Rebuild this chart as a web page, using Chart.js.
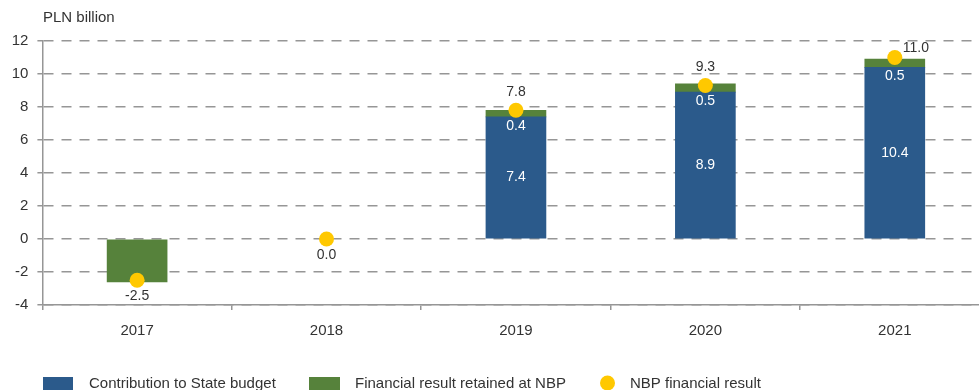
<!DOCTYPE html>
<html>
<head>
<meta charset="utf-8">
<script src="https://cdn.jsdelivr.net/npm/chart.js@4/dist/chart.umd.min.js"></script>
<style>
  html, body { margin: 0; padding: 0; overflow: hidden; background: #fff; }
  #wrap { position: relative; width: 997px; height: 390px; }
</style>
</head>
<body>
<div id="wrap"><canvas id="c" width="997" height="390"></canvas></div>
<script>
// NBP financial result and its distribution, PLN billion
const categories = ['2017', '2018', '2019', '2020', '2021'];
const contribution = [null, null, 7.4, 8.9, 10.4]; // Contribution to State budget
const retained = [-2.6, null, 0.4, 0.5, 0.5];      // Financial result retained at NBP
const nbpResult = [-2.5, 0.0, 7.8, 9.3, 11.0];     // NBP financial result
const yTicks = [-4, -2, 0, 2, 4, 6, 8, 10, 12];
const unitLabel = 'PLN billion';
const legendLabels = ['Contribution to State budget', 'Financial result retained at NBP', 'NBP financial result'];

// where each value label sits relative to its dot
const dotLabelSide = ['below', 'below', 'above', 'above', 'right'];

const BLUE = '#2b5a8b';
const GREEN = '#56823b';
const YELLOW = '#ffc800';
const GRID = '#969696';
const TEXT = '#333333';
const FONT = '"Liberation Sans", Arial, sans-serif';

const labelsPlugin = {
  id: 'labels',
  afterDatasetsDraw(chart) {
    const ctx = chart.ctx;
    ctx.save();
    ctx.font = '14px ' + FONT;
    ctx.textBaseline = 'middle';
    ctx.textAlign = 'center';

    // values inside the blue bars
    chart.getDatasetMeta(0).data.forEach((el, i) => {
      const v = contribution[i];
      if (v > 0) {
        ctx.fillStyle = '#ffffff';
        ctx.fillText(v.toFixed(1), el.x, (el.y + el.base) / 2);
      }
    });
    // retained part, written just under the green cap
    chart.getDatasetMeta(1).data.forEach((el, i) => {
      const v = retained[i];
      if (v > 0) {
        ctx.fillStyle = '#ffffff';
        ctx.fillText(v.toFixed(1), el.x, el.base + 9);
      }
    });
    // NBP financial result next to each dot
    chart.getDatasetMeta(2).data.forEach((el, i) => {
      const txt = nbpResult[i].toFixed(1);
      ctx.fillStyle = TEXT;
      const side = dotLabelSide[i];
      if (side === 'above') {
        ctx.textAlign = 'center';
        ctx.fillText(txt, el.x, el.y - 18);
      } else if (side === 'below') {
        ctx.textAlign = 'center';
        ctx.fillText(txt, el.x, el.y + 16);
      } else {
        ctx.textAlign = 'left';
        ctx.fillText(txt, el.x + 8, el.y - 9);
      }
    });
    ctx.restore();
  },
  afterDraw(chart) {
    const ctx = chart.ctx;
    ctx.save();
    // unit caption above the value axis
    ctx.font = '15px ' + FONT;
    ctx.fillStyle = TEXT;
    ctx.textAlign = 'left';
    ctx.textBaseline = 'middle';
    ctx.fillText(unitLabel, 43, 18);

    // legend row
    ctx.font = '15px ' + FONT;
    ctx.textBaseline = 'alphabetic';
    const baseY = 388;
    ctx.fillStyle = BLUE;
    ctx.fillRect(43, 377, 30, 16);
    ctx.fillStyle = TEXT;
    ctx.fillText(legendLabels[0], 89, baseY);

    ctx.fillStyle = GREEN;
    ctx.fillRect(309, 377, 31, 16);
    ctx.fillStyle = TEXT;
    ctx.fillText(legendLabels[1], 355, baseY);

    ctx.fillStyle = YELLOW;
    ctx.beginPath();
    ctx.arc(607.5, 383, 7.5, 0, Math.PI * 2);
    ctx.fill();
    ctx.fillStyle = TEXT;
    ctx.fillText(legendLabels[2], 630, baseY);
    ctx.restore();
  }
};

new Chart(document.getElementById('c'), {
  data: {
    labels: categories,
    datasets: [
      {
        type: 'bar',
        label: legendLabels[0],
        data: contribution,
        backgroundColor: BLUE,
        borderWidth: 0,
        barThickness: 60,
        stack: 'split',
        order: 2
      },
      {
        type: 'bar',
        label: legendLabels[1],
        data: retained,
        backgroundColor: GREEN,
        borderWidth: 0,
        barThickness: 60,
        stack: 'split',
        order: 2
      },
      {
        type: 'line',
        label: legendLabels[2],
        data: nbpResult,
        showLine: false,
        pointRadius: 7.5,
        pointHoverRadius: 7.5,
        pointBackgroundColor: YELLOW,
        pointBorderWidth: 0,
        stack: 'result',
        order: 1
      }
    ]
  },
  options: {
    responsive: false,
    animation: false,
    devicePixelRatio: 1,
    layout: { padding: { top: 41, left: 0, right: 0, bottom: 0 } },
    plugins: {
      legend: { display: false },
      tooltip: { enabled: false }
    },
    scales: {
      x: {
        stacked: true,
        offset: true,
        grid: {
          offset: true,
          drawOnChartArea: false,
          drawTicks: true,
          tickLength: 5,
          color: GRID,
          lineWidth: 1.5
        },
        border: { color: GRID, width: 1.5 },
        ticks: {
          color: TEXT,
          font: { family: FONT, size: 15 },
          padding: 12
        },
        afterFit(scale) { scale.height = 85; }
      },
      y: {
        stacked: true,
        min: -4,
        max: 12,
        afterBuildTicks(scale) {
          scale.ticks = yTicks.map(v => ({ value: v }));
        },
        grid: {
          color: GRID,
          lineWidth: 1.5,
          tickLength: 5,
          tickBorderDash: [],
          drawTicks: true
        },
        border: { color: GRID, width: 1.5, dash: [10, 8] },
        ticks: {
          color: TEXT,
          font: { family: FONT, size: 15 },
          padding: 9,
          callback: v => String(v)
        },
        afterFit(scale) { scale.width = 42.4; }
      }
    }
  },
  plugins: [labelsPlugin]
});
</script>
</body>
</html>
